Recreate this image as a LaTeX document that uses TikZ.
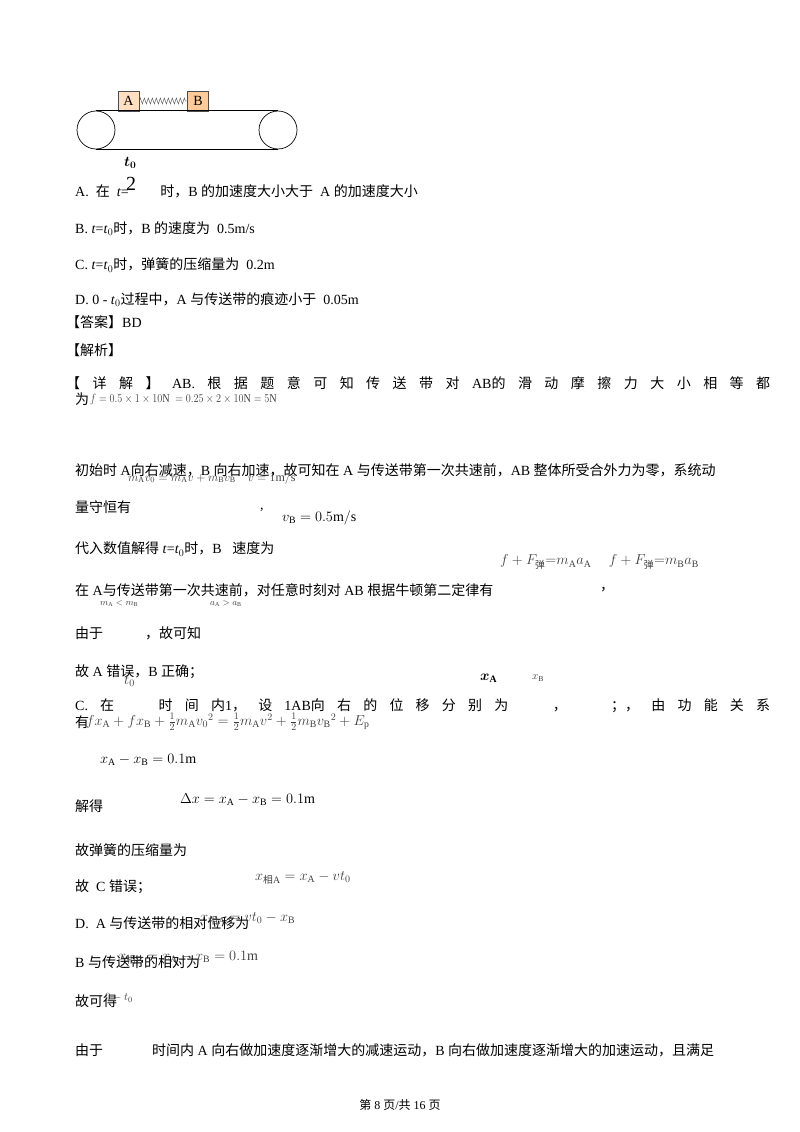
\documentclass[tikz,border=0pt]{standalone}
\usepackage{amsmath}
\usepackage{fontspec}
\setmainfont{Liberation Serif}
\newfontfamily\cjkf{Noto Sans CJK SC}
\newfontfamily\latf{Liberation Serif}
\usetikzlibrary{decorations.pathmorphing}
\XeTeXinterchartokenstate=1
\newXeTeXintercharclass\cjkclass
\newcount\cc
\cc="4E00 \loop\XeTeXcharclass\cc=\cjkclass\advance\cc1 \ifnum\cc<"A000 \repeat
\cc="3000 \loop\XeTeXcharclass\cc=\cjkclass\advance\cc1 \ifnum\cc<"3040 \repeat
\cc="FF00 \loop\XeTeXcharclass\cc=\cjkclass\advance\cc1 \ifnum\cc<"FFF0 \repeat
\XeTeXinterchartoks 0 \cjkclass={\cjkf}
\XeTeXinterchartoks 4095 \cjkclass={\cjkf}
\XeTeXinterchartoks \cjkclass 0={\latf}
\XeTeXinterchartoks \cjkclass 4095={\latf}
\newcommand{\sA}{\mathrm{A}}
\newcommand{\sB}{\mathrm{B}}
\begin{document}
\begin{tikzpicture}[x=1pt,y=-1pt,
 t/.style={anchor=west,inner sep=0pt,font=\fontsize{14}{14}\selectfont},
 fm/.style={anchor=west,inner sep=0pt,font=\fontsize{14}{14}\selectfont,text=black!75},
 blk/.style={draw=black!70,line width=0.6pt,minimum width=21pt,minimum height=20pt,inner sep=0pt,font=\fontsize{14}{14}\selectfont}]
\useasboundingbox (0,0) rectangle (800,1132);
\fill[white] (0,0) rectangle (800,1132);
% diagram
\node[blk,fill=orange!25!white] (A) at (128.5,101) {A};
\node[blk,fill=orange!40!white] (B) at (198,101) {B};
\draw[black!70,decorate,decoration={zigzag,amplitude=3pt,segment length=4pt}] (A.east) -- (B.west);
\node[draw,circle,minimum size=38pt,inner sep=0pt,line width=0.7pt] (L) at (96,130) {};
\node[draw,circle,minimum size=38pt,inner sep=0pt,line width=0.7pt] (R) at (278,130) {};
\draw[line width=0.7pt] (L.north) -- (R.north) (L.south) -- (R.south);
\node[t] (t0) at (124,163) {$\boldsymbol{t_0}$};
\node[t,font=\fontsize{20}{20}\selectfont] (two) at (126,184) {2};
% options
\node[t] (oA) at (75,191) {A.\ \ 在 \ \textit{t}= \qquad 时，B 的加速度大小大于 \ A 的加速度大小};
\node[t] (oB) at (75,229) {B. \textit{t}=\textit{t}$_0$时，B 的速度为 \ 0.5m/s};
\node[t] (oC) at (75,265) {C. \textit{t}=\textit{t}$_0$时，弹簧的压缩量为 \ 0.2m};
\node[t] (oD) at (75,300) {D. 0 - \textit{t}$_0$过程中，A 与传送带的痕迹小于 \ 0.05m};
\node[t] (ans) at (66,322) {【答案】BD};
\node[t] (jx) at (66,350) {【解析】};
\node[t] (l1) at (66,383) {\makebox[704pt][s]{【 详 解 】 AB. 根 据 题 意 可 知 传 送 带 对 AB的 滑 动 摩 擦 力 大 小 相 等 都}};
\node[t] (l2) at (75,399) {为};
\node[fm] (f1) at (90,399) {\scalebox{0.85}[1]{\fontsize{12}{12}\selectfont$f=0.5\times1\times10\mathrm{N}\;=0.25\times2\times10\mathrm{N}=5\mathrm{N}$}};
\node[t] (l3) at (75,470) {初始时 A向右减速，B 向右加速，故可知在 A 与传送带第一次共速前，AB 整体所受合外力为零，系统动};
\node[fm] (f3) at (128,478) {\fontsize{12}{12}\selectfont$m_\sA v_0=m_\sA v+m_\sB v_\sB\quad v=1\mathrm{m/s}$};
\node[t] (l4) at (75,507) {量守恒有};
\node[t] (c4) at (260,510) {,};
\node[t] (f4) at (282,518) {$v_\sB=0.5\mathrm{m/s}$};
\node[t] (l5) at (75,549) {代入数值解得 \textit{t}=\textit{t}$_0$时，B \ \ 速度为};
\node[fm] (f5) at (500,562) {$f+F_{\text{弹}}{=}m_\sA a_\sA\quad\ f+F_{\text{弹}}{=}m_\sB a_\sB$};
\node[t] (l6) at (75,590) {在 A与传送带第一次共速前，对任意时刻对 AB 根据牛顿第二定律有};
\node[t] (c6) at (600,590) {，};
\node[fm] (f6a) at (100,604) {\fontsize{9}{9}\selectfont$m_\sA<m_\sB$};
\node[fm] (f6b) at (210,604) {\fontsize{9}{9}\selectfont$a_\sA>a_\sB$};
\node[t] (l7) at (75,633) {由于};
\node[t] (l7b) at (145,633) {，故可知};
\node[t] (l8) at (75,672) {故 A 错误，B 正确；};
\node[fm] (f8) at (124,681) {$t_0$};
\node[t] (f8a) at (480,678) {$\boldsymbol{x_\sA}$};
\node[fm] (f8b) at (532,678) {\fontsize{11}{11}\selectfont$x_\sB$};
\node[t] (l9) at (75,706) {\makebox[695pt][s]{C. 在 \hspace{20pt} 时 间 内1， 设 1AB向 右 的 位 移 分 别 为 \hspace{20pt} ， \hspace{20pt} ；， 由 功 能 关 系}};
\node[t] (l9b) at (75,722) {有};
\node[fm] (f9) at (86,722) {$fx_\sA+fx_\sB+\frac{1}{2}m_\sA v_0{}^2=\frac{1}{2}m_\sA v^2+\frac{1}{2}m_\sB v_\sB{}^2+E_\mathrm{p}$};
\node[t] (f10) at (100,760) {$x_\sA-x_\sB=0.1\mathrm{m}$};
\node[t] (l11) at (75,806) {解得};
\node[t] (f11) at (180,800) {$\Delta x=x_\sA-x_\sB=0.1\mathrm{m}$};
\node[t] (l12) at (75,850) {故弹簧的压缩量为};
\node[t] (l13) at (75,887) {故 \ C 错误；};
\node[fm] (f13) at (255,878) {$x_{\text{相A}}=x_\sA-vt_0$};
\node[t] (l14) at (75,923) {D.\ \ A 与传送带的相对位移为};
\node[fm] (f14) at (200,919) {$x_{\text{相A}}=vt_0-x_\sB$};
\node[t] (l15) at (75,962) {B 与传送带的相对为};
\node[fm] (f15) at (118,958) {$x_{\text{相B}}=x_\sA-x_\sB=0.1\mathrm{m}$};
\node[t] (l16) at (75,1001) {故可得};
\node[fm] (f16) at (105,998) {\fontsize{11}{11}\selectfont$0-t_0$};
\node[t] (l17) at (75,1050) {由于};
\node[t] (l17b) at (152,1050) {时间内 A 向右做加速度逐渐增大的减速运动，B 向右做加速度逐渐增大的加速运动，且满足};
\node[t,anchor=center,font=\fontsize{12}{12}\selectfont] (ft) at (400,1105) {第 8 页/共 16 页};
\end{tikzpicture}
\end{document}
